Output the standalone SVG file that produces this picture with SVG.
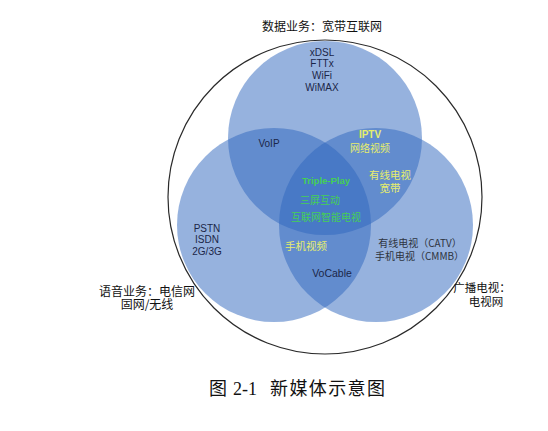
<svg xmlns="http://www.w3.org/2000/svg" width="548" height="431" viewBox="0 0 548 431">
<style>
.set{fill:#2d65bd;fill-opacity:0.5}
.lat{font-family:"Liberation Sans",Arial,sans-serif;font-size:10px;text-anchor:middle}
.cjk{font-family:"Noto Sans CJK SC",sans-serif;text-anchor:middle}
.dark{fill:#1b2648}
.yel{fill:#e6ee6c}
.grn{fill:#45cf55}
.grey{fill:#2e3440}
.lbl{fill:#111;font-size:12px}
</style>
<rect width="548" height="431" fill="#ffffff"/>
<g id="outer">
<circle cx="325" cy="197" r="157" fill="none" stroke="#2a2a2a" stroke-width="1.2"/>
</g>
<g id="circle-data"><circle class="set" cx="325" cy="138" r="97"/></g>
<g id="circle-voice"><circle class="set" cx="274" cy="225" r="97"/></g>
<g id="circle-tv"><circle class="set" cx="376" cy="225" r="97"/></g>
<g id="connectors"/>
<g id="label-data">
<text class="cjk lbl" x="322" y="31">数据业务：宽带互联网</text>
<text class="lat dark" x="322" y="55.5">xDSL</text>
<text class="lat dark" x="322" y="67">FTTx</text>
<text class="lat dark" x="322" y="79">WiFi</text>
<text class="lat dark" x="322" y="91">WiMAX</text>
</g>
<g id="label-voice">
<text class="cjk lbl"><tspan x="147" y="296">语音业务：电信网</tspan><tspan x="147" y="308.5">固网/无线</tspan></text>
<text class="lat dark" x="207" y="231.5">PSTN</text>
<text class="lat dark" x="207" y="243">ISDN</text>
<text class="lat dark" x="207" y="254.8">2G/3G</text>
</g>
<g id="label-tv">
<text class="cjk lbl" style="font-size:11.5px"><tspan x="482" y="291.5">广播电视：</tspan><tspan x="486" y="305.8">电视网</tspan></text>
<text class="cjk grey" style="font-size:10px"><tspan x="420" y="247">有线电视（CATV）</tspan><tspan x="419.5" y="259.5">手机电视（CMMB）</tspan></text>
</g>
<g id="overlap-data-voice">
<text class="lat dark" x="269" y="146.6">VoIP</text>
</g>
<g id="overlap-data-tv">
<text class="lat yel" x="370" y="138.4" style="font-weight:bold">IPTV</text>
<text class="cjk yel" x="370" y="151.5" style="font-size:10px">网络视频</text>
<text class="cjk yel" style="font-size:10.5px"><tspan x="390" y="179">有线电视</tspan><tspan x="390" y="192">宽带</tspan></text>
</g>
<g id="overlap-voice-tv">
<text class="cjk yel" x="306" y="249.5" style="font-size:10.5px">手机视频</text>
<text class="lat dark" x="332" y="276.5" style="font-size:10.5px">VoCable</text>
</g>
<g id="overlap-all">
<text class="lat grn" x="326" y="184" style="font-weight:bold;font-size:9.5px">Triple-Play</text>
<text class="cjk grn" x="320" y="203.8" style="font-size:10px">三屏互动</text>
<text class="cjk grn" x="326" y="221" style="font-size:10px">互联网智能电视</text>
</g>
<g id="caption">
<text font-family="Liberation Serif,'Noto Sans CJK SC',serif" font-size="18" fill="#111" y="394.5"><tspan x="209" font-family="Noto Sans CJK SC,sans-serif">图</tspan><tspan x="233">2-1</tspan><tspan x="270" font-family="Noto Sans CJK SC,sans-serif" textLength="115">新媒体示意图</tspan></text>
</g>
</svg>
